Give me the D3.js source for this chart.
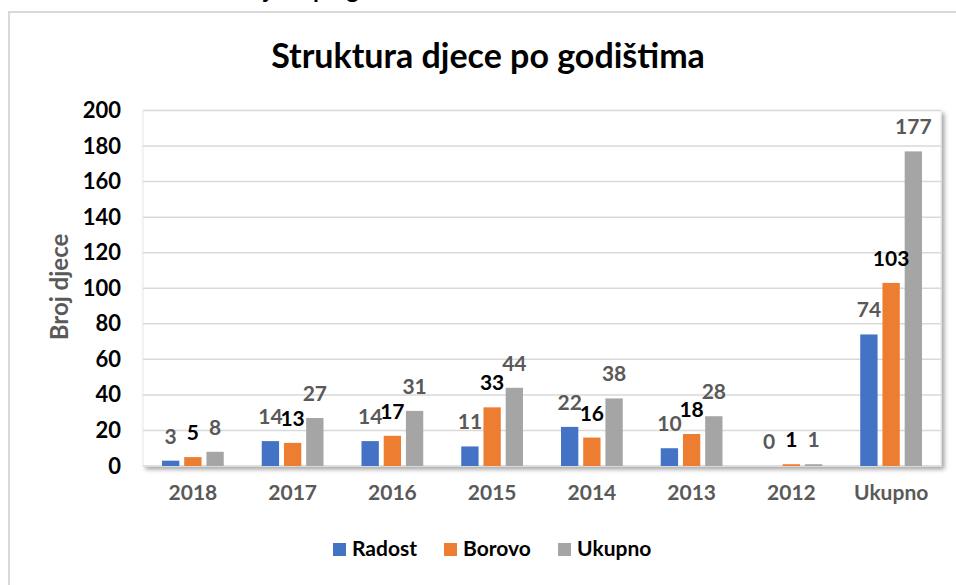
<!DOCTYPE html>
<html>
<head>
<meta charset="utf-8">
<script src="https://cdn.jsdelivr.net/npm/d3@7"></script>
<style>
  html, body { margin: 0; padding: 0; background: #fff; }
  svg { display: block; }
  text { font-family: Lato, "Open Sans", sans-serif; font-weight: bold; }
</style>
</head>
<body>
<svg id="chart" width="956" height="585"></svg>
<script>
const categories = ["2018", "2017", "2016", "2015", "2014", "2013", "2012", "Ukupno"];
const seriesNames = ["Radost", "Borovo", "Ukupno"];
const radost = [3, 14, 14, 11, 22, 10, 0, 74];
const borovo = [5, 13, 17, 33, 16, 18, 1, 103];
const ukupno = [8, 27, 31, 44, 38, 28, 1, 177];
const yTicks = [0, 20, 40, 60, 80, 100, 120, 140, 160, 180, 200];
const colors = ["#4472C4", "#ED7D31", "#A5A5A5"];
const labelColors = ["#595959", "#000000", "#595959"];
const titleText = "Struktura djece po godištima";
const yAxisTitle = "Broj djece";

const seriesValues = [radost, borovo, ukupno];
const svg = d3.select("#chart");

const plot = { left: 143, right: 941, top: 110.5, bottom: 466 };

// drop shadow filter
const defs = svg.append("defs");
const f = defs.append("filter").attr("id", "shadow").attr("x", "-5%").attr("y", "-5%").attr("width", "110%").attr("height", "115%");
f.append("feDropShadow").attr("dx", 3).attr("dy", 3).attr("stdDeviation", 2)
  .attr("flood-color", "#000").attr("flood-opacity", 0.35);

// header text of the page, cut off at the top edge (only descenders visible)
const header = svg.append("text").attr("x", 0).attr("y", -2)
  .attr("font-size", 24).attr("fill", "#000").text(titleText);
const jPos = header.node().getStartPositionOfChar(titleText.indexOf("j")).x;
header.attr("x", 264 - jPos);

// chart area border
svg.append("rect").attr("x", 9).attr("y", 12).attr("width", 1000).attr("height", 700)
  .attr("fill", "#fff").attr("stroke", "#d9d9d9").attr("stroke-width", 2);

// title
svg.append("text").attr("x", 488).attr("y", 68).attr("text-anchor", "middle")
  .attr("font-size", 34).attr("fill", "#000").text(titleText);

const x = d3.scaleBand().domain(categories).range([plot.left, plot.right]).padding(0);
const xInner = d3.scaleBand().domain(seriesNames)
  .range([19, x.bandwidth() - 19]).paddingInner(0.22).paddingOuter(0);
const y = d3.scaleLinear().domain([0, 200]).range([plot.bottom, plot.top]);

// plot area with shadow
svg.append("rect").attr("x", plot.left).attr("y", plot.top)
  .attr("width", plot.right - plot.left).attr("height", plot.bottom - plot.top)
  .attr("fill", "#fff").attr("stroke", "#e8e8e8").attr("stroke-width", 1)
  .attr("filter", "url(#shadow)");

// gridlines
svg.append("g").selectAll("line").data(yTicks).join("line")
  .attr("x1", plot.left).attr("x2", plot.right)
  .attr("y1", d => y(d)).attr("y2", d => y(d))
  .attr("stroke", "#d9d9d9").attr("stroke-width", 1.5);

// y axis labels
const yAxis = d3.axisLeft(y).tickValues(yTicks).tickSize(0).tickPadding(0);
const yg = svg.append("g").attr("transform", "translate(121,0)").call(yAxis);
yg.select(".domain").remove();
yg.selectAll("text").attr("font-size", 22).attr("fill", "#000")
  .style("font-family", "Lato, sans-serif").style("font-weight", "bold");

// x axis labels
const xAxis = d3.axisBottom(x).tickSize(0).tickPadding(0);
const xg = svg.append("g").attr("transform", "translate(0,485)").call(xAxis);
xg.select(".domain").remove();
xg.selectAll("text").attr("font-size", 21).attr("fill", "#595959")
  .style("font-family", "Lato, sans-serif").style("font-weight", "bold");

// bars
const data = [];
categories.forEach((c, i) => {
  seriesNames.forEach((s, j) => {
    data.push({ cat: c, series: s, j: j, value: seriesValues[j][i] });
  });
});

svg.append("g").selectAll("rect").data(data).join("rect")
  .attr("x", d => x(d.cat) + xInner(d.series))
  .attr("y", d => y(d.value))
  .attr("width", xInner.bandwidth())
  .attr("height", d => plot.bottom - y(d.value))
  .attr("fill", d => colors[d.j]);

// data labels
svg.append("g").selectAll("text").data(data).join("text")
  .attr("x", d => x(d.cat) + xInner(d.series) + xInner.bandwidth() / 2)
  .attr("y", d => y(d.value) - 17)
  .attr("text-anchor", "middle")
  .attr("font-size", 21)
  .attr("fill", d => labelColors[d.j])
  .text(d => d.value);

// y axis title
svg.append("text").attr("transform", "translate(68,287) rotate(-90)")
  .attr("text-anchor", "middle").attr("font-size", 24).attr("fill", "#595959")
  .text(yAxisTitle);

// legend
const legendX = [333, 444, 558];
const lg = svg.append("g").selectAll("g").data(seriesNames).join("g")
  .attr("transform", (d, i) => `translate(${legendX[i]},543)`);
lg.append("rect").attr("width", 13).attr("height", 13).attr("fill", (d, i) => colors[i]);
lg.append("text").attr("x", 19).attr("y", 13).attr("font-size", 21).attr("fill", "#000").text(d => d);
</script>
</body>
</html>
